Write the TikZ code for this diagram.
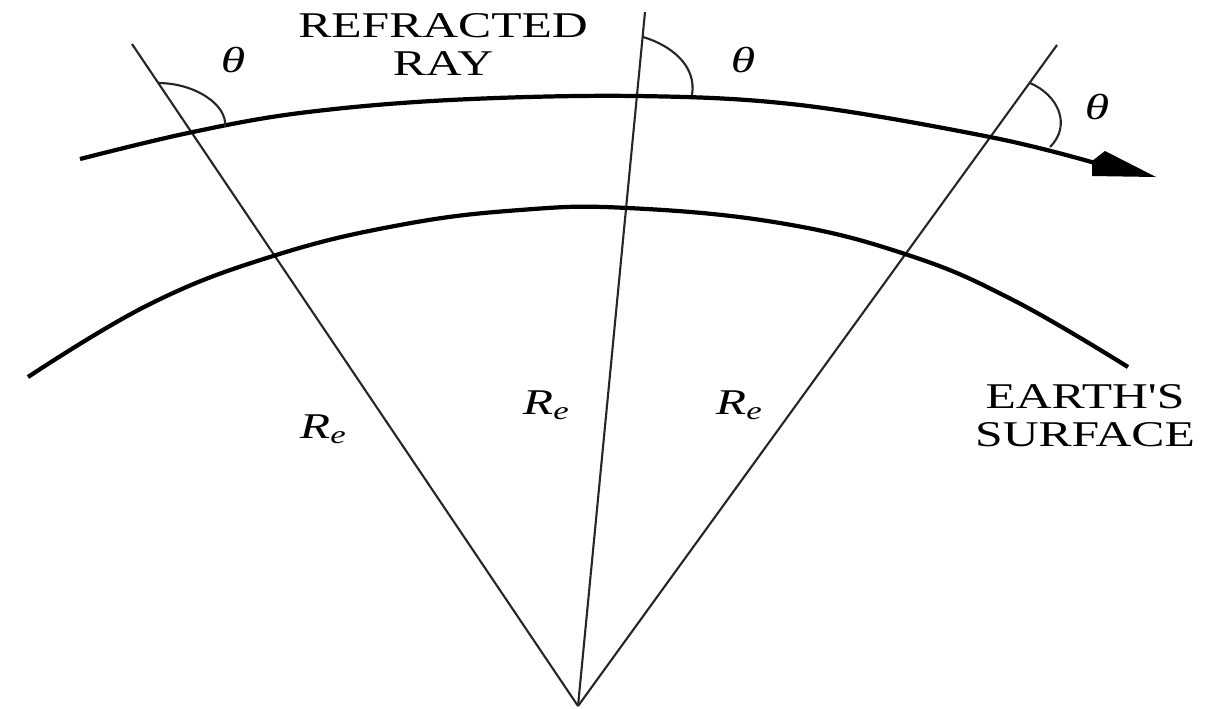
\documentclass[tikz,border=0pt]{standalone}
\usepackage{fontspec}
\setmainfont{Liberation Serif}
\newfontfamily\labelfont{Liberation Serif}
\begin{document}
\begin{tikzpicture}[x=0.01cm,y=-0.01cm,
  radial/.style={line width=0.6pt, black!85},
  curve/.style={line width=1.2pt},
  angarc/.style={line width=0.6pt, black!85},
  lbl/.style={inner sep=0pt, font=\labelfont\fontsize{10.3}{10.8}\selectfont, xscale=1.37},
  sym/.style={inner sep=0pt, font=\fontsize{10.3}{12}\selectfont\itshape, xscale=1.37}]
\useasboundingbox (0,0) rectangle (1210,708);
% centre and radial lines
\coordinate (O) at (578,706);
\coordinate (L) at (132,44);
\coordinate (M) at (645,12);
\coordinate (Rt) at (1057,45);
\draw[radial] (O) -- (L);
\draw[radial] (O) -- (M);
\draw[radial] (O) -- (Rt);
% refracted ray
\draw[curve] plot[smooth, tension=0.6] coordinates {(80,159) (188,133) (300,113) (450,100) (636,96) (800,105) (990,137) (1095,163)};
\fill (1092,161) -- (1105,151) -- (1156,177) -- (1092,176) -- cycle;
% earth's surface
\draw[curve] plot[smooth, tension=0.7] coordinates {(28,377) (150,304) (273,256) (400,225) (520,210) (628,208) (780,223) (908,255) (1013,300) (1128,367)};
% angle arcs
\draw[angarc] (158,83) .. controls (195,83) and (228,105) .. (225,127);
\draw[angarc] (643,37) .. controls (670,45) and (697,65) .. (692,95);
\draw[angarc] (1030,83) .. controls (1058,95) and (1072,125) .. (1050,147);
% labels
\node[sym] (t1) at (233,60) {θ};
\node[sym] (t2) at (743,60) {θ};
\node[sym] (t3) at (1097,107) {θ};
\node[lbl, anchor=north, align=center] (ray) at (443,13) {REFRACTED\\RAY};
\node[lbl, anchor=north, align=center] (earth) at (1085,384) {EARTH'S\\SURFACE};
\node[sym] (r1) at (324,429) {R\textsubscript{e}};
\node[sym] (r2) at (547,405) {R\textsubscript{e}};
\node[sym] (r3) at (740,405) {R\textsubscript{e}};
\end{tikzpicture}
\end{document}
